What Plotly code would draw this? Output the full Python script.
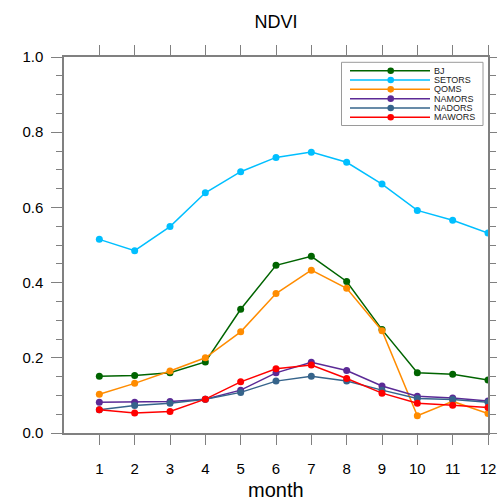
import plotly.graph_objects as go

months = list(range(1, 13))
BJ = [0.151, 0.153, 0.160, 0.189, 0.329, 0.446, 0.470, 0.403, 0.275, 0.160, 0.156, 0.141]
SETORS = [0.515, 0.485, 0.549, 0.639, 0.695, 0.733, 0.747, 0.720, 0.662, 0.592, 0.566, 0.532]
QOMS = [0.103, 0.132, 0.165, 0.200, 0.269, 0.371, 0.433, 0.385, 0.272, 0.046, 0.084, 0.052]
NAMORS = [0.082, 0.082, 0.084, 0.090, 0.114, 0.160, 0.188, 0.166, 0.125, 0.098, 0.093, 0.085]
NADORS = [0.062, 0.073, 0.079, 0.090, 0.108, 0.138, 0.151, 0.138, 0.114, 0.092, 0.089, 0.082]
MAWORS = [0.062, 0.053, 0.057, 0.090, 0.136, 0.171, 0.181, 0.145, 0.106, 0.079, 0.074, 0.068]

series = [
    ("BJ", BJ, "#006400"),
    ("SETORS", SETORS, "#00BFFF"),
    ("QOMS", QOMS, "#FF8C00"),
    ("NAMORS", NAMORS, "#5B2A96"),
    ("NADORS", NADORS, "#36648B"),
    ("MAWORS", MAWORS, "#FF0000"),
]

fig = go.Figure()
for name, vals, col in series:
    fig.add_trace(go.Scatter(
        x=months, y=vals, name=name, mode="lines+markers",
        line=dict(color=col, width=1.5),
        marker=dict(color=col, size=7),
        showlegend=False,
    ))

# plot-area geometry in pixels (for the hand-drawn legend)
W, H = 497, 501
L, R, T, B = 64, 9, 57, 68
pw, ph = W - L - R, H - T - B


def px2x(px):
    return (px - L) / pw


def py2y(py):
    return (H - B - py) / ph


shapes = []
annotations = []
# legend box
shapes.append(dict(type="rect", xref="paper", yref="paper",
                   x0=px2x(341.5), x1=px2x(483), y0=py2y(125.5), y1=py2y(62.3),
                   line=dict(color="#9a9a9a", width=1), fillcolor="white", layer="above"))
row0, rowstep = 70.7, 9.32
for i, (name, vals, col) in enumerate(series):
    py = row0 + i * rowstep
    shapes.append(dict(type="line", xref="paper", yref="paper",
                       x0=px2x(350), x1=px2x(430), y0=py2y(py), y1=py2y(py),
                       line=dict(color=col, width=1.5), layer="above"))
    r = 3.3
    shapes.append(dict(type="circle", xref="paper", yref="paper",
                       x0=px2x(390.7 - r), x1=px2x(390.7 + r),
                       y0=py2y(py + r), y1=py2y(py - r),
                       line=dict(color=col, width=0), fillcolor=col, layer="above"))
    annotations.append(dict(text=name, xref="paper", yref="paper",
                            x=px2x(431.5), y=py2y(py), xanchor="left", yanchor="middle",
                            showarrow=False, font=dict(size=9, color="#222222")))

# x-axis title placed as text
annotations.append(dict(text="month", xref="paper", yref="paper", x=0.5,
                        y=py2y(490), xanchor="center", yanchor="middle",
                        showarrow=False, font=dict(size=20, color="black")))

axcol = "#808080"
fig.update_layout(
    width=W, height=H,
    margin=dict(l=L, r=R, t=T, b=B),
    paper_bgcolor="white", plot_bgcolor="white",
    font=dict(family="Liberation Sans, Arial, sans-serif", color="black"),
    title=dict(text="NDVI", x=0.5, xref="paper", xanchor="center",
               y=1 - 22 / H, yanchor="middle", yref="container",
               font=dict(size=18)),
    showlegend=False,
    shapes=shapes,
    annotations=annotations,
    xaxis=dict(range=[0, 12], tickvals=months, ticktext=[str(m) for m in months],
               ticks="outside", ticklen=10, tickcolor=axcol, tickwidth=1,
               showline=True, linecolor=axcol, linewidth=1.5, mirror="ticks",
               showgrid=False, zeroline=False, tickfont=dict(size=15),
               ticklabelstandoff=11, automargin=False),
    yaxis=dict(range=[0, 1], tickvals=[0, 0.2, 0.4, 0.6, 0.8, 1.0],
               ticktext=["0.0", "0.2", "0.4", "0.6", "0.8", "1.0"],
               ticks="outside", ticklen=11, tickcolor=axcol, tickwidth=1,
               minor=dict(dtick=0.05, ticks="outside", ticklen=6, tickcolor=axcol),
               showline=True, linecolor=axcol, linewidth=1.5, mirror="ticks",
               showgrid=False, zeroline=False, tickfont=dict(size=15),
               ticklabelstandoff=5, automargin=False),
)

fig.write_html("out.html")
